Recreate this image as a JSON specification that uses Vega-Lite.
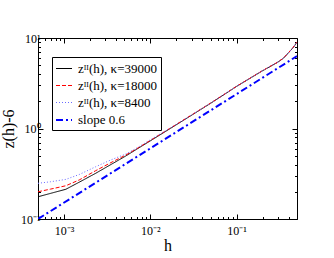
{
  "$schema": "https://vega.github.io/schema/vega-lite/v6.json",
  "width": 259,
  "height": 181,
  "autosize": "none",
  "padding": {"left": 38, "top": 38, "right": 37, "bottom": 39},
  "background": "white",
  "config": {
    "view": {"stroke": "black", "strokeWidth": 1},
    "axis": {
      "domainColor": "black", "tickColor": "black", "labelColor": "black", "titleColor": "black",
      "labelFont": "Liberation Serif", "titleFont": "Liberation Serif",
      "labelFontSize": 12, "titleFontSize": 16, "titleFontWeight": "normal",
      "grid": false, "labelFlush": false, "labelOverlap": false
    }
  },
  "data": {"values": [
    {"h": 0.0005, "z": 0.176, "s": "zᴵᴵ(h), κ=39000"},
    {"h": 0.0007, "z": 0.192, "s": "zᴵᴵ(h), κ=39000"},
    {"h": 0.00105, "z": 0.213, "s": "zᴵᴵ(h), κ=39000"},
    {"h": 0.0015, "z": 0.255, "s": "zᴵᴵ(h), κ=39000"},
    {"h": 0.00233, "z": 0.32, "s": "zᴵᴵ(h), κ=39000"},
    {"h": 0.0035, "z": 0.4, "s": "zᴵᴵ(h), κ=39000"},
    {"h": 0.0052, "z": 0.497, "s": "zᴵᴵ(h), κ=39000"},
    {"h": 0.007, "z": 0.593, "s": "zᴵᴵ(h), κ=39000"},
    {"h": 0.01, "z": 0.73, "s": "zᴵᴵ(h), κ=39000"},
    {"h": 0.02, "z": 1.1, "s": "zᴵᴵ(h), κ=39000"},
    {"h": 0.05, "z": 1.9, "s": "zᴵᴵ(h), κ=39000"},
    {"h": 0.1, "z": 2.92, "s": "zᴵᴵ(h), κ=39000"},
    {"h": 0.2, "z": 4.35, "s": "zᴵᴵ(h), κ=39000"},
    {"h": 0.3, "z": 5.4, "s": "zᴵᴵ(h), κ=39000"},
    {"h": 0.35, "z": 6.0, "s": "zᴵᴵ(h), κ=39000"},
    {"h": 0.4, "z": 6.9, "s": "zᴵᴵ(h), κ=39000"},
    {"h": 0.45, "z": 7.8, "s": "zᴵᴵ(h), κ=39000"},
    {"h": 0.5, "z": 9.0, "s": "zᴵᴵ(h), κ=39000"},
    {"h": 0.0005, "z": 0.2, "s": "zᴵᴵ(h), κ=18000"},
    {"h": 0.0007, "z": 0.214, "s": "zᴵᴵ(h), κ=18000"},
    {"h": 0.00105, "z": 0.233, "s": "zᴵᴵ(h), κ=18000"},
    {"h": 0.0015, "z": 0.27, "s": "zᴵᴵ(h), κ=18000"},
    {"h": 0.00233, "z": 0.342, "s": "zᴵᴵ(h), κ=18000"},
    {"h": 0.0035, "z": 0.42, "s": "zᴵᴵ(h), κ=18000"},
    {"h": 0.0052, "z": 0.509, "s": "zᴵᴵ(h), κ=18000"},
    {"h": 0.007, "z": 0.6, "s": "zᴵᴵ(h), κ=18000"},
    {"h": 0.01, "z": 0.74, "s": "zᴵᴵ(h), κ=18000"},
    {"h": 0.02, "z": 1.11, "s": "zᴵᴵ(h), κ=18000"},
    {"h": 0.05, "z": 1.91, "s": "zᴵᴵ(h), κ=18000"},
    {"h": 0.1, "z": 2.93, "s": "zᴵᴵ(h), κ=18000"},
    {"h": 0.2, "z": 4.37, "s": "zᴵᴵ(h), κ=18000"},
    {"h": 0.3, "z": 5.42, "s": "zᴵᴵ(h), κ=18000"},
    {"h": 0.35, "z": 6.02, "s": "zᴵᴵ(h), κ=18000"},
    {"h": 0.4, "z": 6.92, "s": "zᴵᴵ(h), κ=18000"},
    {"h": 0.45, "z": 7.85, "s": "zᴵᴵ(h), κ=18000"},
    {"h": 0.5, "z": 9.05, "s": "zᴵᴵ(h), κ=18000"},
    {"h": 0.0005, "z": 0.248, "s": "zᴵᴵ(h), κ=8400"},
    {"h": 0.0007, "z": 0.258, "s": "zᴵᴵ(h), κ=8400"},
    {"h": 0.00105, "z": 0.274, "s": "zᴵᴵ(h), κ=8400"},
    {"h": 0.0015, "z": 0.31, "s": "zᴵᴵ(h), κ=8400"},
    {"h": 0.00233, "z": 0.378, "s": "zᴵᴵ(h), κ=8400"},
    {"h": 0.0035, "z": 0.45, "s": "zᴵᴵ(h), κ=8400"},
    {"h": 0.0052, "z": 0.523, "s": "zᴵᴵ(h), κ=8400"},
    {"h": 0.007, "z": 0.61, "s": "zᴵᴵ(h), κ=8400"},
    {"h": 0.01, "z": 0.75, "s": "zᴵᴵ(h), κ=8400"},
    {"h": 0.02, "z": 1.11, "s": "zᴵᴵ(h), κ=8400"},
    {"h": 0.05, "z": 1.91, "s": "zᴵᴵ(h), κ=8400"},
    {"h": 0.1, "z": 2.93, "s": "zᴵᴵ(h), κ=8400"},
    {"h": 0.2, "z": 4.36, "s": "zᴵᴵ(h), κ=8400"},
    {"h": 0.3, "z": 5.41, "s": "zᴵᴵ(h), κ=8400"},
    {"h": 0.35, "z": 6.01, "s": "zᴵᴵ(h), κ=8400"},
    {"h": 0.4, "z": 6.91, "s": "zᴵᴵ(h), κ=8400"},
    {"h": 0.45, "z": 7.82, "s": "zᴵᴵ(h), κ=8400"},
    {"h": 0.5, "z": 9.02, "s": "zᴵᴵ(h), κ=8400"},
    {"h": 0.0005, "z": 0.1, "s": "slope 0.6"},
    {"h": 0.5, "z": 6.31, "s": "slope 0.6"}
  ]},
  "resolve": {"axis": {"x": "independent", "y": "independent"}},
  "layer": [
    {
      "mark": {"type": "line", "clip": true},
      "encoding": {
        "x": {"field": "h", "type": "quantitative",
          "scale": {"type": "log", "domain": [0.0005, 0.5], "nice": false},
          "axis": {"orient": "bottom", "title": "h", "titlePadding": -1,
            "values": [0.0006,0.0007,0.0008,0.0009,0.001,0.002,0.003,0.004,0.005,0.006,0.007,0.008,0.009,0.01,0.02,0.03,0.04,0.05,0.06,0.07,0.08,0.09,0.1,0.2,0.3,0.4],
            "labelExpr": "datum.value == 0.001 ? '10⁻³' : datum.value == 0.01 ? '10⁻²' : datum.value == 0.1 ? '10⁻¹' : ''",
            "tickSize": {"condition": {"test": "datum.value == 0.001 || datum.value == 0.01 || datum.value == 0.1", "value": -5}, "value": -2.5},
            "labelPadding": 3,
            "labelBaseline": "line-top", "labelLineHeight": 28}},
        "y": {"field": "z", "type": "quantitative",
          "scale": {"type": "log", "domain": [0.1, 10], "nice": false},
          "axis": {"orient": "left", "title": "z(h)-6", "titlePadding": 4,
            "values": [0.1,0.2,0.3,0.4,0.5,0.6,0.7,0.8,0.9,1,2,3,4,5,6,7,8,9,10],
            "labelExpr": "datum.value == 0.1 ? '10⁻¹' : datum.value == 1 ? '10⁰' : datum.value == 10 ? '10¹' : ''",
            "tickSize": {"condition": {"test": "datum.value == 0.1 || datum.value == 1 || datum.value == 10", "value": -5}, "value": -2.5},
            "labelPadding": 3}},
        "color": {"field": "s", "type": "nominal",
          "scale": {"domain": ["zᴵᴵ(h), κ=39000", "zᴵᴵ(h), κ=18000", "zᴵᴵ(h), κ=8400", "slope 0.6"],
                    "range": ["#000000", "#ff0000", "#6a6aff", "#0000ff"]},
          "legend": {"title": null, "orient": "none", "legendX": 14, "legendY": 19,
            "strokeColor": "black", "fillColor": "white", "padding": 3, "rowPadding": 1,
            "symbolType": "stroke", "symbolSize": 256, "labelFont": "Liberation Serif",
            "labelFontSize": 13, "labelColor": "black", "labelOffset": 5, "cornerRadius": 0,
            "symbolOpacity": 1,
            "encode": {"symbols": {"update": {
              "stroke": {"signal": "scale('color', datum.value)"},
              "strokeDash": {"scale": "strokeDash", "field": "value"},
              "strokeWidth": {"scale": "strokeWidth", "field": "value"}}}}}},
        "strokeDash": {"field": "s", "type": "nominal",
          "scale": {"domain": ["zᴵᴵ(h), κ=39000", "zᴵᴵ(h), κ=18000", "zᴵᴵ(h), κ=8400", "slope 0.6"],
                    "range": [[1, 0], [4, 2], [1, 2], [7, 3, 2, 3]]},
          "legend": null},
        "strokeWidth": {"field": "s", "type": "nominal",
          "scale": {"type": "ordinal", "domain": ["zᴵᴵ(h), κ=39000", "zᴵᴵ(h), κ=18000", "zᴵᴵ(h), κ=8400", "slope 0.6"],
                    "range": [1, 1, 1, 2]},
          "legend": null}
      }
    },
    {
      "mark": {"type": "line", "strokeOpacity": 0},
      "encoding": {
        "x": {"field": "h", "type": "quantitative",
          "scale": {"type": "log", "domain": [0.0005, 0.5], "nice": false},
          "axis": {"orient": "top", "title": null, "labels": false, "domain": false,
            "values": [0.0006,0.0007,0.0008,0.0009,0.001,0.002,0.003,0.004,0.005,0.006,0.007,0.008,0.009,0.01,0.02,0.03,0.04,0.05,0.06,0.07,0.08,0.09,0.1,0.2,0.3,0.4],
            "tickSize": {"condition": {"test": "datum.value == 0.001 || datum.value == 0.01 || datum.value == 0.1", "value": -5}, "value": -2.5}}},
        "y": {"field": "z", "type": "quantitative",
          "scale": {"type": "log", "domain": [0.1, 10], "nice": false},
          "axis": {"orient": "right", "title": null, "labels": false, "domain": false,
            "values": [0.1,0.2,0.3,0.4,0.5,0.6,0.7,0.8,0.9,1,2,3,4,5,6,7,8,9,10],
            "tickSize": {"condition": {"test": "datum.value == 0.1 || datum.value == 1 || datum.value == 10", "value": -5}, "value": -2.5}}},
        "detail": {"field": "s", "type": "nominal"}
      }
    }
  ]
}
